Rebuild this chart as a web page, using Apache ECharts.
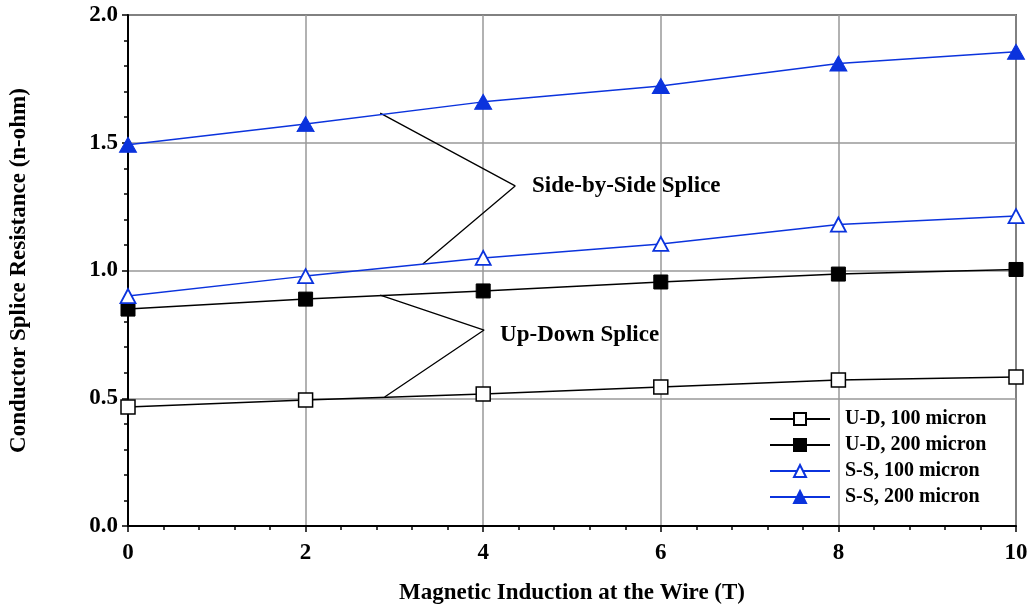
<!DOCTYPE html>
<html>
<head>
<meta charset="utf-8">
<script src="https://cdn.jsdelivr.net/npm/echarts@6/dist/echarts.min.js"></script>
<style>html,body{margin:0;padding:0;background:#fff}#c{width:1028px;height:607px}</style>
</head>
<body>
<div id="c"></div>
<script>
const xValues = [0, 2, 4, 6, 8, 10];
const ud100 = [0.466, 0.493, 0.517, 0.544, 0.571, 0.583];
const ud200 = [0.849, 0.888, 0.920, 0.955, 0.986, 1.004];
const ss100 = [0.900, 0.978, 1.049, 1.104, 1.180, 1.213];
const ss200 = [1.492, 1.573, 1.660, 1.722, 1.810, 1.856];
const seriesNames = ['U-D, 100 micron', 'U-D, 200 micron', 'S-S, 100 micron', 'S-S, 200 micron'];
const ssPointer = [[2.84, 1.616], [4.36, 1.331], [3.32, 1.025]];
const udPointer = [[2.84, 0.904], [4.01, 0.767], [2.89, 0.505]];
const ssLabel = [[4.55, 1.331]];
const udLabel = [[4.19, 0.748]];

const BLUE = '#0b33dd';
const FONT = '"Liberation Serif", "Times New Roman", serif';
const pair = v => xValues.map((x, i) => [x, v[i]]);

const chart = echarts.init(document.getElementById('c'));
const textBase = {color: '#000', fontFamily: FONT, fontWeight: 'bold'};
const annLabel = txt => Object.assign({show: true, position: 'right', distance: 0, fontSize: 23, opacity: 1,
  textBorderWidth: 0, formatter: txt}, textBase);
chart.setOption({
  animation: false,
  backgroundColor: '#fff',
  grid: {left: 128, right: 12, top: 15, bottom: 81, containLabel: false, outerBoundsMode: 'none',
         show: true, borderColor: '#000', borderWidth: 1.5, backgroundColor: 'transparent'},
  legend: {
    data: seriesNames,
    orient: 'vertical',
    left: 764, top: 404,
    itemWidth: 60, itemHeight: 15, itemGap: 6,
    textStyle: Object.assign({fontSize: 20, padding: [0, 0, 0, 10]}, textBase)
  },
  xAxis: {
    type: 'value', min: 0, max: 10, interval: 2,
    name: 'Magnetic Induction at the Wire (T)', nameLocation: 'middle', nameGap: 56,
    nameTextStyle: Object.assign({fontSize: 23}, textBase),
    axisLine: {lineStyle: {color: '#000', width: 2}},
    axisTick: {inside: false, length: 6, lineStyle: {color: '#000', width: 1.5}},
    minorTick: {show: true, splitNumber: 5, length: 4, lineStyle: {color: '#000', width: 1.5}},
    axisLabel: Object.assign({fontSize: 23, margin: 16}, textBase),
    splitLine: {show: true, lineStyle: {color: '#999', width: 1.5}}
  },
  yAxis: {
    type: 'value', min: 0, max: 2, interval: 0.5,
    name: 'Conductor Splice Resistance (n-ohm)', nameLocation: 'middle', nameGap: 97, nameRotate: 90,
    nameTextStyle: Object.assign({fontSize: 23}, textBase),
    axisLine: {lineStyle: {color: '#000', width: 2}},
    axisTick: {inside: false, length: 6, lineStyle: {color: '#000', width: 1.5}},
    minorTick: {show: true, splitNumber: 5, length: 4, lineStyle: {color: '#000', width: 1.5}},
    axisLabel: Object.assign({fontSize: 23, margin: 10, formatter: v => v.toFixed(1)}, textBase),
    splitLine: {show: true, lineStyle: {color: '#999', width: 1.5}}
  },
  series: [
    {name: seriesNames[0], type: 'line', data: pair(ud100), symbol: 'rect', symbolSize: 14,
     lineStyle: {color: '#000', width: 1.5}, itemStyle: {color: '#fff', borderColor: '#000', borderWidth: 1.5}, z: 3},
    {name: seriesNames[1], type: 'line', data: pair(ud200), symbol: 'rect', symbolSize: 14,
     lineStyle: {color: '#000', width: 1.5}, itemStyle: {color: '#000', borderColor: '#000', borderWidth: 1}, z: 3},
    {name: seriesNames[2], type: 'line', data: pair(ss100), symbol: 'triangle', symbolSize: [15, 14],
     lineStyle: {color: BLUE, width: 1.5}, itemStyle: {color: '#fff', borderColor: BLUE, borderWidth: 1.8}, z: 3},
    {name: seriesNames[3], type: 'line', data: pair(ss200), symbol: 'triangle', symbolSize: [17, 15],
     lineStyle: {color: BLUE, width: 1.5}, itemStyle: {color: BLUE, borderColor: BLUE, borderWidth: 1}, z: 3},
    {type: 'line', data: ssPointer, symbol: 'none', lineStyle: {color: '#000', width: 1.3}, silent: true, z: 2},
    {type: 'line', data: udPointer, symbol: 'none', lineStyle: {color: '#000', width: 1.3}, silent: true, z: 2},
    {type: 'scatter', data: ssLabel, symbolSize: 0, silent: true, itemStyle: {opacity: 1, color: '#000'},
     label: annLabel('Side-by-Side Splice'), z: 4},
    {type: 'scatter', data: udLabel, symbolSize: 0, silent: true, itemStyle: {opacity: 1, color: '#000'},
     label: annLabel('Up-Down Splice'), z: 4}
  ]
});
</script>
</body>
</html>
